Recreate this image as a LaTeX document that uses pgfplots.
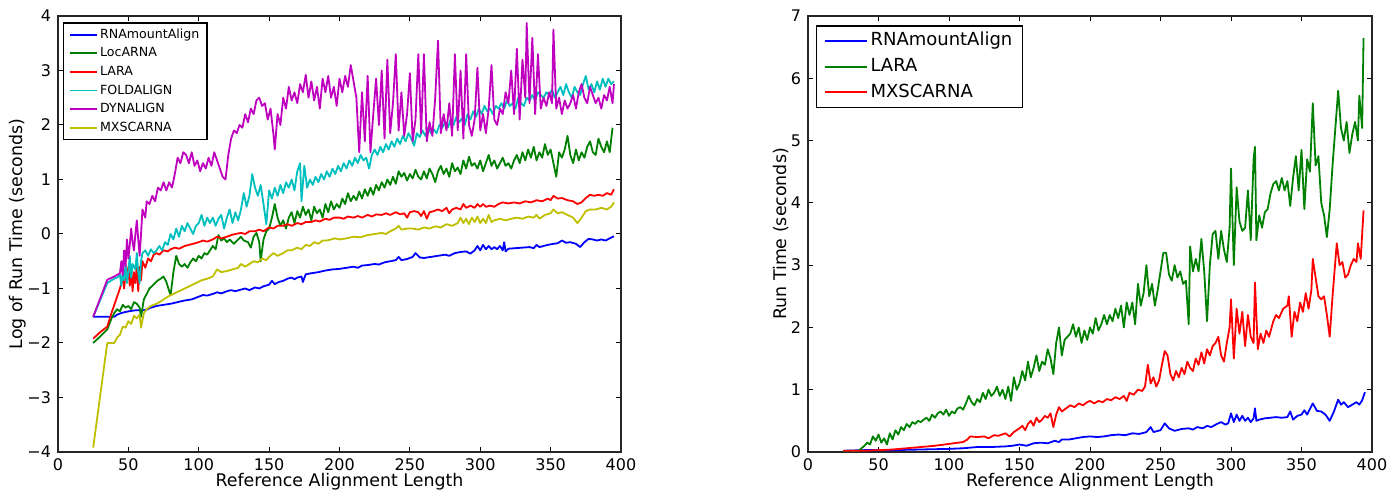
\documentclass[border=0pt]{standalone}
\usepackage{fontspec}
\setmainfont{DejaVu Sans}
\usepackage{pgfplots}
\pgfplotsset{compat=1.18}
\definecolor{mb}{rgb}{0,0,1}
\definecolor{mg}{rgb}{0,0.5,0}
\definecolor{mr}{rgb}{1,0,0}
\definecolor{mc}{rgb}{0,0.75,0.75}
\definecolor{mm}{rgb}{0.75,0,0.75}
\definecolor{my}{rgb}{0.75,0.75,0}
\pgfplotsset{
  mystyle/.style={
    scale only axis, xmin=0, xmax=400, height=218pt,
    xtick={0,50,...,400},
    tick align=inside, major tick length=2.5pt,
    tick style={black, line width=0.5pt},
    tick label style={font=\fontsize{8}{9}\selectfont},
    label style={font=\fontsize{8.7}{10}\selectfont},
    /pgf/number format/assume math mode=true,
    axis line style={line width=0.7pt, black!85},
    every axis plot/.append style={line width=0.9pt, line join=round},
    xlabel={Reference Alignment Length},
    xlabel style={at={(axis description cs:0.5,-0.0796)}, anchor=base},
    legend cell align=left,
  }
}
\begin{document}
\begin{tikzpicture}
\useasboundingbox (-29pt,-19pt) rectangle (671pt,226pt);
% ---------------- left panel ----------------
\begin{axis}[mystyle, at={(0pt,0pt)}, anchor=south west, width=281.5pt,
  ymin=-4, ymax=4, ytick={-4,-3,...,4},
  yticklabels={−4,−3,−2,−1,0,1,2,3,4},
  ylabel={Log of Run Time (seconds)},
  ylabel style={at={(axis description cs:-0.071,0.5)}, anchor=center},
  legend style={at={(axis description cs:0.0089,0.986)}, anchor=north west,
    font=\fontsize{6.3}{7.5}\selectfont, draw=black, line width=0.7pt,
    inner xsep=2.5pt, inner ysep=1.5pt, row sep=0.4pt,
    nodes={inner sep=1.2pt, text height=5pt, text depth=1.5pt}},
  legend image code/.code={\draw[#1, line width=0.9pt] (0pt,0pt) -- (9.5pt,0pt); \path (0pt,0pt) -- (13.6pt,0pt);},
]
\addplot[mb] coordinates {(25,-1.52)(30,-1.52)(35,-1.52)(40,-1.52)(42,-1.48)(45,-1.45)(48,-1.43)(50,-1.42)(55,-1.40)(60,-1.40)(63,-1.39)(65,-1.36)(70,-1.32)(75,-1.30)(80,-1.28)(85,-1.25)(90,-1.22)(95,-1.2)(100,-1.15)(103,-1.12)(106,-1.13)(110,-1.10)(113,-1.07)(116,-1.09)(120,-1.05)(123,-1.03)(126,-1.05)(130,-1.02)(133,-1.0)(136,-1.03)(140,-0.98)(143,-1.0)(146,-0.96)(150,-0.93)(152,-0.86)(154,-0.92)(157,-0.88)(160,-0.86)(163,-0.82)(166,-0.80)(168,-0.83)(170,-0.80)(173,-0.78)(174,-0.88)(176,-0.74)(180,-0.72)(185,-0.70)(190,-0.67)(195,-0.65)(200,-0.64)(205,-0.62)(210,-0.60)(213,-0.62)(216,-0.58)(220,-0.57)(225,-0.55)(228,-0.56)(232,-0.52)(236,-0.5)(240,-0.48)(242,-0.42)(244,-0.48)(248,-0.46)(252,-0.42)(254,-0.35)(257,-0.43)(260,-0.44)(265,-0.42)(270,-0.40)(275,-0.38)(278,-0.40)(282,-0.35)(286,-0.33)(290,-0.32)(293,-0.36)(296,-0.30)(298,-0.22)(300,-0.30)(302,-0.20)(304,-0.28)(306,-0.22)(308,-0.28)(310,-0.24)(312,-0.28)(314,-0.22)(316,-0.30)(317,-0.15)(318,-0.32)(320,-0.27)(325,-0.26)(330,-0.25)(335,-0.24)(338,-0.26)(340,-0.20)(342,-0.24)(345,-0.22)(348,-0.20)(352,-0.18)(355,-0.17)(358,-0.12)(361,-0.16)(364,-0.15)(368,-0.18)(371,-0.24)(374,-0.15)(377,-0.09)(380,-0.10)(383,-0.12)(386,-0.10)(389,-0.12)(392,-0.08)(395,-0.04)};
\addlegendentry{RNAmountAlign}
\addplot[mg] coordinates {(25,-2.0)(30,-1.88)(35,-1.75)(38,-1.55)(40,-1.45)(42,-1.38)(44,-1.42)(46,-1.3)(48,-1.35)(50,-1.32)(52,-1.38)(54,-1.25)(56,-1.28)(58,-1.35)(59,-1.52)(61,-1.2)(63,-1.1)(65,-1.0)(67,-0.95)(69,-0.9)(71,-0.85)(73,-0.82)(75,-0.78)(77,-0.88)(79,-1.05)(80,-1.12)(82,-0.7)(84,-0.4)(86,-0.55)(88,-0.6)(90,-0.55)(92,-0.62)(94,-0.52)(96,-0.45)(98,-0.5)(100,-0.4)(102,-0.45)(104,-0.35)(106,-0.38)(108,-0.3)(110,-0.22)(112,-0.28)(114,-0.02)(116,-0.12)(118,-0.08)(120,-0.15)(122,-0.1)(125,-0.18)(128,-0.1)(130,-0.05)(132,-0.12)(135,-0.15)(137,-0.25)(139,-0.05)(141,0.02)(143,-0.15)(144,-0.5)(146,-0.1)(148,0.05)(150,0.1)(152,0.3)(154,0.55)(156,0.3)(158,0.15)(160,0.25)(162,0.1)(164,0.3)(166,0.4)(168,0.2)(170,0.42)(172,0.3)(174,0.5)(176,0.35)(178,0.45)(180,0.25)(182,0.5)(184,0.38)(186,0.45)(188,0.3)(190,0.55)(192,0.4)(194,0.6)(196,0.45)(198,0.55)(200,0.48)(202,0.65)(204,0.55)(206,0.75)(208,0.6)(210,0.7)(212,0.62)(214,0.78)(216,0.65)(218,0.82)(220,0.7)(222,0.85)(224,0.72)(226,0.9)(228,0.8)(230,0.95)(232,0.85)(234,1.0)(236,0.9)(238,1.05)(240,0.92)(242,1.15)(244,1.05)(246,1.12)(248,0.98)(250,1.1)(252,1.02)(254,1.18)(256,1.05)(258,1.0)(260,1.15)(262,1.02)(264,1.2)(266,1.1)(268,0.95)(270,1.15)(272,1.25)(274,1.1)(276,1.2)(278,1.05)(280,1.3)(282,1.15)(284,1.22)(286,1.1)(288,1.35)(290,1.2)(292,1.42)(294,1.25)(296,1.3)(298,1.2)(300,1.35)(302,1.15)(304,1.3)(306,1.45)(308,1.25)(310,1.35)(312,1.2)(314,1.3)(316,1.4)(318,1.25)(320,1.3)(322,1.2)(324,1.35)(326,1.45)(328,1.3)(330,1.5)(332,1.35)(334,1.55)(336,1.4)(338,1.6)(340,1.35)(342,1.5)(344,1.4)(346,1.65)(348,1.45)(350,1.55)(352,1.3)(354,1.05)(356,1.5)(358,1.4)(360,1.55)(362,1.8)(364,1.45)(366,1.3)(368,1.55)(370,1.35)(372,1.5)(374,1.4)(376,1.6)(378,1.7)(380,1.5)(382,1.45)(384,1.75)(386,1.6)(388,1.5)(390,1.7)(392,1.5)(394,1.95)};
\addlegendentry{LocARNA}
\addplot[mr] coordinates {(25,-1.92)(30,-1.8)(35,-1.7)(38,-1.45)(40,-1.3)(42,-1.15)(44,-1.0)(45,-0.9)(46,-0.75)(47,-1.0)(48,-0.7)(49,-0.85)(50,-0.6)(51,-0.95)(52,-0.65)(53,-1.05)(54,-0.7)(55,-0.9)(56,-0.55)(57,-1.05)(58,-0.6)(59,-0.85)(60,-0.5)(62,-0.62)(64,-0.45)(66,-0.5)(68,-0.38)(70,-0.35)(72,-0.38)(75,-0.3)(78,-0.32)(80,-0.28)(83,-0.25)(86,-0.27)(90,-0.22)(93,-0.2)(96,-0.18)(100,-0.15)(103,-0.12)(106,-0.14)(110,-0.1)(113,-0.05)(116,-0.08)(120,-0.05)(123,-0.02)(126,0.0)(130,0.02)(133,0.0)(136,0.05)(140,0.05)(143,0.08)(146,0.05)(150,0.12)(153,0.1)(156,0.15)(160,0.15)(163,0.18)(166,0.15)(170,0.2)(173,0.18)(176,0.22)(180,0.22)(183,0.25)(186,0.23)(190,0.28)(193,0.26)(196,0.3)(200,0.3)(203,0.28)(206,0.32)(210,0.3)(213,0.33)(216,0.3)(220,0.35)(223,0.32)(226,0.36)(230,0.35)(233,0.38)(236,0.35)(240,0.4)(243,0.36)(246,0.38)(248,0.3)(250,0.4)(253,0.42)(256,0.4)(258,0.33)(260,0.42)(262,0.28)(264,0.4)(267,0.42)(270,0.45)(273,0.42)(276,0.48)(278,0.38)(280,0.45)(283,0.48)(286,0.45)(288,0.55)(290,0.48)(293,0.52)(296,0.48)(298,0.55)(300,0.5)(302,0.55)(304,0.5)(307,0.52)(310,0.5)(313,0.55)(316,0.58)(320,0.56)(324,0.58)(328,0.56)(332,0.6)(336,0.58)(340,0.62)(344,0.6)(348,0.65)(350,0.62)(352,0.7)(355,0.65)(358,0.66)(362,0.62)(366,0.6)(369,0.55)(372,0.58)(375,0.66)(378,0.72)(381,0.7)(384,0.72)(387,0.7)(390,0.75)(393,0.72)(395,0.82)};
\addlegendentry{LARA}
\addplot[mc] coordinates {(25,-1.52)(35,-0.9)(38,-0.85)(40,-0.82)(42,-0.8)(44,-0.75)(45,-0.95)(46,-0.7)(47,-0.85)(48,-0.55)(49,-0.9)(50,-0.7)(51,-0.4)(52,-0.8)(53,-0.55)(55,-0.65)(56,-0.35)(57,-0.7)(58,-0.9)(59,-0.5)(60,-0.35)(62,-0.3)(64,-0.4)(66,-0.28)(68,-0.35)(70,-0.3)(72,-0.22)(74,-0.3)(76,-0.15)(78,-0.2)(80,0.0)(82,-0.1)(84,0.1)(86,-0.05)(88,0.15)(90,0.05)(92,0.2)(94,0.1)(96,0.0)(98,0.15)(100,0.2)(102,0.35)(104,0.15)(106,0.3)(108,0.2)(110,0.3)(112,0.15)(114,0.28)(116,0.35)(118,0.1)(120,0.3)(122,0.45)(124,0.2)(126,0.4)(128,0.25)(130,0.45)(132,0.75)(134,0.5)(136,0.7)(138,1.1)(140,0.85)(142,0.7)(144,0.9)(146,0.55)(148,0.18)(150,0.8)(152,0.65)(154,0.85)(156,0.7)(158,0.9)(160,0.75)(162,0.95)(164,0.85)(166,1.0)(168,0.8)(170,1.15)(172,1.3)(173,0.6)(175,1.25)(177,0.85)(179,1.0)(181,0.9)(183,1.05)(185,0.95)(187,1.1)(189,1.0)(191,1.15)(193,1.05)(195,1.2)(197,1.1)(199,1.25)(201,1.15)(203,1.3)(205,1.2)(207,1.35)(209,1.25)(211,1.4)(213,1.3)(215,1.45)(217,1.35)(219,1.4)(221,1.2)(223,1.45)(225,1.55)(227,1.45)(229,1.6)(231,1.5)(233,1.65)(235,1.55)(237,1.7)(239,1.6)(241,1.75)(243,1.65)(245,1.8)(247,1.7)(249,1.85)(251,1.75)(253,1.62)(255,1.85)(257,1.78)(259,1.9)(261,1.8)(263,1.95)(265,1.85)(267,1.92)(269,1.85)(271,2.0)(273,1.95)(275,2.05)(277,1.95)(279,2.1)(281,2.0)(283,2.15)(285,2.05)(287,2.12)(289,2.0)(291,2.2)(293,2.1)(295,2.25)(297,2.15)(299,2.3)(301,2.2)(303,2.35)(305,2.25)(307,2.3)(309,2.2)(311,2.35)(313,2.3)(315,2.4)(317,2.3)(319,2.45)(321,2.35)(323,2.4)(325,2.3)(327,2.5)(329,2.4)(331,2.35)(333,2.5)(335,2.45)(337,2.55)(339,2.45)(341,2.6)(343,2.55)(345,2.5)(347,2.6)(349,2.55)(351,2.65)(353,2.5)(355,2.6)(357,2.7)(359,2.55)(361,2.75)(363,2.6)(365,2.5)(367,2.7)(369,2.6)(371,2.55)(373,2.75)(375,2.9)(377,2.65)(379,2.75)(381,2.6)(383,2.8)(385,2.65)(387,2.85)(389,2.7)(391,2.85)(393,2.75)(395,2.8)};
\addlegendentry{FOLDALIGN}
\addplot[mm] coordinates {(25,-1.52)(35,-0.84)(40,-0.78)(44,-0.72)(45,-0.5)(46,-0.75)(47,-0.3)(48,-0.6)(49,-0.1)(50,-0.45)(51,-0.2)(52,0.1)(53,-0.15)(54,-0.3)(55,0.0)(56,0.25)(57,-0.1)(58,-0.4)(59,0.0)(60,0.45)(62,0.3)(63,0.6)(65,0.55)(67,0.7)(69,0.6)(71,0.85)(73,0.8)(75,0.95)(77,0.8)(79,0.95)(81,0.85)(83,1.1)(85,1.4)(87,1.3)(89,1.5)(91,1.45)(93,1.3)(95,1.5)(97,1.25)(99,1.35)(101,1.15)(103,1.3)(105,1.2)(107,1.4)(109,1.25)(111,1.5)(113,1.35)(115,1.2)(117,1.05)(119,1.0)(121,1.45)(123,1.75)(125,1.9)(127,1.85)(129,2.0)(131,1.95)(133,2.2)(135,2.05)(137,2.3)(139,2.2)(141,2.45)(143,2.5)(145,2.35)(147,2.4)(149,2.1)(151,2.3)(153,1.85)(154,1.55)(156,2.2)(158,2.0)(160,2.5)(162,2.3)(164,2.7)(166,2.45)(168,2.6)(170,2.4)(172,2.75)(174,2.6)(176,2.92)(178,2.5)(180,2.8)(182,2.45)(184,2.7)(186,2.3)(188,2.85)(190,2.6)(192,2.9)(194,2.5)(196,2.7)(198,2.35)(200,2.85)(202,2.6)(204,2.9)(206,2.7)(208,3.1)(210,2.8)(212,2.5)(214,1.5)(216,2.6)(218,1.7)(220,2.9)(222,1.5)(224,2.2)(226,2.85)(228,2.0)(230,3.0)(232,1.75)(234,3.2)(236,1.85)(238,2.4)(240,3.3)(242,1.9)(244,2.6)(246,1.8)(248,2.2)(250,2.95)(252,1.7)(254,2.1)(256,3.3)(258,1.85)(260,3.3)(262,1.7)(264,2.05)(266,1.8)(268,2.5)(270,3.55)(272,1.85)(274,2.2)(276,1.9)(278,2.4)(280,1.8)(282,3.3)(284,1.9)(286,3.0)(288,1.75)(290,3.3)(292,2.0)(294,1.8)(296,2.1)(298,3.05)(300,1.9)(302,2.2)(304,1.85)(306,2.3)(308,3.1)(310,2.1)(312,2.0)(314,2.3)(316,2.2)(318,2.6)(320,2.4)(322,3.0)(324,2.2)(326,3.4)(328,2.1)(330,3.2)(332,2.5)(333,3.87)(335,2.4)(337,3.6)(339,2.2)(341,3.3)(343,2.3)(345,2.5)(347,2.35)(349,2.6)(351,2.4)(352,3.75)(354,2.3)(356,2.5)(358,2.2)(360,2.45)(362,2.3)(364,2.4)(366,2.55)(368,2.3)(370,2.6)(372,2.75)(374,2.5)(376,2.4)(378,2.7)(380,2.55)(382,2.4)(384,2.5)(386,2.3)(388,2.55)(390,2.45)(392,2.7)(394,2.4)(395,2.75)};
\addlegendentry{DYNALIGN}
\addplot[my] coordinates {(25,-3.92)(35,-2.0)(38,-2.0)(40,-2.0)(42,-1.9)(44,-1.85)(46,-1.7)(48,-1.72)(50,-1.6)(52,-1.65)(54,-1.5)(56,-1.55)(58,-1.48)(59,-1.72)(61,-1.45)(63,-1.38)(66,-1.32)(70,-1.28)(74,-1.22)(78,-1.15)(82,-1.1)(86,-1.05)(90,-1.0)(94,-0.95)(98,-0.9)(102,-0.85)(106,-0.82)(110,-0.78)(113,-0.65)(116,-0.7)(120,-0.68)(124,-0.65)(128,-0.62)(130,-0.55)(133,-0.6)(136,-0.55)(139,-0.5)(142,-0.52)(145,-0.45)(148,-0.48)(150,-0.42)(153,-0.35)(156,-0.4)(160,-0.35)(163,-0.3)(166,-0.3)(170,-0.25)(173,-0.28)(176,-0.2)(179,-0.22)(182,-0.15)(185,-0.18)(188,-0.12)(191,-0.12)(194,-0.1)(197,-0.08)(200,-0.1)(205,-0.08)(210,-0.05)(215,-0.06)(220,-0.02)(225,0.0)(230,0.02)(233,0.0)(236,0.05)(240,0.1)(242,0.15)(244,0.08)(248,0.1)(252,0.1)(256,0.08)(260,0.12)(264,0.1)(268,0.14)(272,0.12)(276,0.18)(280,0.15)(284,0.2)(286,0.3)(288,0.2)(290,0.28)(292,0.18)(294,0.3)(296,0.22)(298,0.32)(300,0.2)(302,0.28)(304,0.2)(306,0.35)(308,0.22)(310,0.25)(314,0.28)(318,0.25)(322,0.28)(326,0.3)(330,0.28)(334,0.32)(338,0.3)(340,0.35)(342,0.28)(346,0.35)(350,0.38)(352,0.45)(355,0.38)(358,0.4)(362,0.35)(366,0.3)(369,0.2)(372,0.3)(375,0.42)(378,0.45)(382,0.45)(386,0.48)(390,0.45)(393,0.5)(395,0.58)};
\addlegendentry{MXSCARNA}
\end{axis}
% ---------------- right panel ----------------
\begin{axis}[mystyle, at={(375pt,0pt)}, anchor=south west, width=282pt,
  ymin=0, ymax=7, ytick={0,1,...,7},
  ylabel={Run Time (seconds)},
  ylabel style={at={(axis description cs:-0.048,0.5)}, anchor=center},
  legend style={at={(axis description cs:0.0142,0.979)}, anchor=north west,
    font=\fontsize{9}{10.5}\selectfont, draw=black, line width=0.7pt,
    inner xsep=3.5pt, inner ysep=1.5pt, row sep=0.6pt,
    nodes={inner sep=1.5pt, text height=7pt, text depth=2.2pt}},
  legend image code/.code={\draw[#1, line width=0.9pt] (0pt,0pt) -- (14pt,0pt); \path (0pt,0pt) -- (21pt,0pt);},
]
\addplot[mb] coordinates {(25,0.02)(40,0.03)(60,0.03)(80,0.04)(100,0.05)(110,0.06)(120,0.08)(130,0.08)(140,0.09)(145,0.1)(150,0.12)(155,0.1)(160,0.14)(165,0.15)(170,0.14)(175,0.18)(178,0.16)(180,0.2)(185,0.2)(190,0.22)(195,0.24)(200,0.25)(205,0.24)(210,0.25)(215,0.27)(220,0.28)(225,0.27)(230,0.3)(235,0.29)(240,0.32)(243,0.4)(245,0.32)(250,0.35)(253,0.46)(256,0.38)(260,0.34)(265,0.37)(270,0.38)(273,0.36)(276,0.4)(280,0.38)(283,0.42)(286,0.4)(290,0.45)(293,0.48)(296,0.44)(298,0.46)(300,0.62)(302,0.48)(304,0.6)(306,0.5)(308,0.58)(310,0.5)(312,0.55)(314,0.48)(316,0.54)(317,0.7)(318,0.5)(320,0.52)(324,0.54)(328,0.55)(332,0.56)(336,0.55)(340,0.56)(342,0.65)(344,0.52)(347,0.58)(350,0.6)(352,0.67)(354,0.6)(358,0.78)(361,0.66)(364,0.65)(367,0.6)(370,0.5)(373,0.65)(376,0.84)(378,0.76)(380,0.8)(383,0.72)(386,0.76)(389,0.8)(391,0.76)(393,0.83)(395,0.96)};
\addlegendentry{RNAmountAlign}
\addplot[mg] coordinates {(25,0.01)(30,0.0)(36,0.02)(40,0.1)(42,0.15)(44,0.12)(46,0.25)(48,0.18)(50,0.28)(52,0.15)(54,0.22)(56,0.12)(58,0.3)(60,0.2)(62,0.35)(64,0.28)(66,0.4)(68,0.35)(70,0.45)(72,0.4)(74,0.48)(76,0.45)(78,0.5)(80,0.48)(82,0.52)(84,0.55)(86,0.5)(88,0.6)(90,0.55)(92,0.62)(94,0.65)(96,0.6)(98,0.68)(100,0.58)(102,0.65)(104,0.62)(106,0.7)(108,0.72)(110,0.68)(112,0.78)(114,0.9)(116,0.8)(118,0.75)(120,0.85)(122,0.8)(124,0.95)(126,0.85)(128,1.0)(130,0.9)(132,0.95)(134,1.05)(136,0.9)(138,1.0)(140,0.85)(142,1.05)(144,0.82)(146,1.2)(148,1.0)(150,1.1)(152,1.3)(154,1.15)(156,1.45)(158,1.2)(160,1.35)(162,1.55)(164,1.3)(166,1.45)(168,1.4)(170,1.65)(172,1.5)(174,1.25)(176,1.75)(178,2.0)(180,1.55)(182,1.8)(184,1.85)(186,1.9)(188,2.05)(190,1.85)(192,2.0)(194,1.75)(196,1.95)(198,1.8)(200,2.0)(202,1.9)(204,2.15)(206,1.95)(208,2.05)(210,2.2)(212,2.05)(214,2.2)(216,2.1)(218,2.3)(220,2.15)(222,2.35)(224,2.0)(226,2.4)(228,2.2)(230,2.4)(232,2.05)(234,2.7)(236,2.35)(238,2.55)(240,3.0)(242,2.5)(244,2.7)(246,2.35)(248,2.6)(250,2.9)(252,3.2)(254,3.2)(256,2.85)(258,2.75)(260,3.0)(262,2.8)(264,2.9)(266,2.7)(268,2.75)(270,2.05)(271,3.3)(273,2.9)(275,3.1)(277,2.9)(279,3.42)(281,2.9)(283,2.1)(285,3.0)(287,3.5)(289,3.55)(291,3.1)(293,3.55)(295,3.25)(297,3.05)(299,3.6)(300,4.55)(302,3.0)(304,4.25)(306,3.7)(308,3.55)(310,3.6)(312,4.2)(314,3.4)(316,4.7)(317,4.9)(318,3.4)(320,3.8)(322,3.6)(324,3.85)(326,3.9)(328,4.15)(330,4.3)(332,4.35)(334,4.2)(336,4.4)(338,4.2)(340,4.35)(342,3.95)(344,4.4)(346,4.75)(348,4.2)(350,4.85)(352,3.9)(354,4.7)(356,4.5)(358,5.6)(360,4.6)(362,4.75)(364,4.0)(366,3.8)(368,3.45)(370,3.9)(372,4.6)(376,5.8)(378,5.2)(380,5.0)(382,5.3)(384,4.8)(386,5.1)(388,5.3)(390,5.0)(391,5.72)(393,5.2)(394,6.65)};
\addlegendentry{LARA}
\addplot[mr] coordinates {(25,0.02)(40,0.02)(50,0.03)(60,0.04)(70,0.06)(80,0.08)(90,0.1)(100,0.13)(110,0.16)(113,0.2)(115,0.25)(120,0.24)(125,0.25)(128,0.22)(132,0.27)(135,0.26)(140,0.3)(143,0.25)(146,0.32)(150,0.38)(152,0.42)(154,0.35)(156,0.45)(158,0.5)(160,0.42)(162,0.55)(164,0.48)(166,0.52)(168,0.58)(170,0.55)(172,0.62)(174,0.4)(176,0.6)(178,0.72)(180,0.65)(183,0.7)(186,0.75)(189,0.72)(192,0.78)(195,0.75)(198,0.8)(200,0.82)(203,0.78)(206,0.82)(209,0.8)(212,0.85)(215,0.83)(218,0.88)(221,0.85)(224,0.9)(226,0.82)(228,0.95)(231,0.92)(234,1.0)(237,0.98)(239,1.05)(241,1.4)(243,1.1)(245,1.2)(247,1.05)(249,1.15)(251,1.4)(253,1.62)(255,1.55)(257,1.25)(259,1.15)(261,1.3)(263,1.2)(265,1.35)(267,1.25)(269,1.45)(271,1.35)(273,1.3)(275,1.5)(277,1.4)(279,1.6)(281,1.42)(283,1.65)(285,1.55)(287,1.7)(289,1.75)(291,1.85)(293,1.55)(295,1.45)(297,1.75)(299,2.0)(300,2.45)(302,1.5)(304,2.3)(306,1.9)(308,2.25)(310,1.7)(312,2.2)(314,1.85)(316,1.75)(317,2.72)(319,1.65)(321,1.9)(323,1.75)(325,1.95)(327,1.85)(330,2.1)(332,2.2)(334,2.15)(337,2.3)(340,2.35)(341,2.5)(343,1.85)(345,2.25)(347,2.1)(349,2.4)(351,2.25)(353,2.55)(355,2.3)(357,2.6)(358,3.1)(360,2.8)(362,2.5)(364,2.45)(366,2.5)(368,2.2)(370,1.85)(372,2.5)(375,3.35)(377,3.0)(379,3.05)(381,2.8)(383,2.85)(385,3.0)(387,3.1)(389,3.05)(390,3.35)(392,3.1)(394,3.88)};
\addlegendentry{MXSCARNA}
\end{axis}
\end{tikzpicture}
\end{document}
